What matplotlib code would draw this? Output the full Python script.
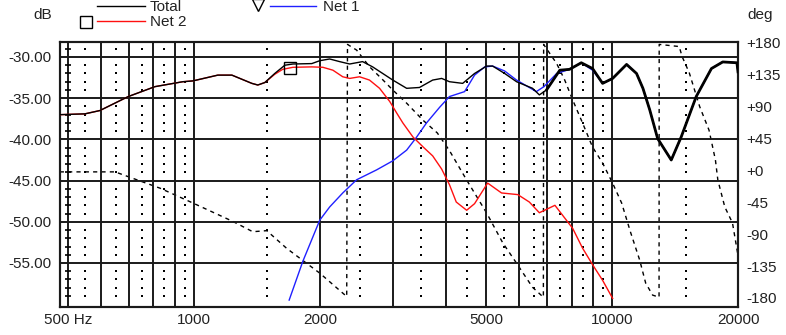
import numpy as np
import matplotlib
matplotlib.use('Agg')
import matplotlib.pyplot as plt
from matplotlib.lines import Line2D

plt.rcParams['font.family'] = ['Liberation Sans', 'DejaVu Sans']

# ---- data ----
total_freq = [478, 549, 596, 697, 807, 941, 995, 1141, 1233, 1376, 1422, 1478, 1561, 1650,
              1725, 1914, 2000, 2112, 2231, 2358, 2532, 2676, 2990, 3227, 3463, 3724, 3913,
              4085, 4393, 4690, 5012, 5180, 5535, 5910, 6454, 6700, 6970, 7500, 7910, 8440,
              8980, 9490, 10030, 10830, 11440, 11850, 12300, 12850, 13850, 14630, 15890,
              17280, 18390, 19880, 20000]
total_db = [-37.0, -36.9, -36.5, -34.8, -33.6, -33.0, -32.9, -32.2, -32.2, -33.2, -33.4, -33.1,
            -32.0, -31.0, -30.85, -30.8, -30.45, -30.24, -30.56, -30.85, -30.56, -31.2, -32.8,
            -33.8, -33.7, -32.8, -32.6, -33.0, -33.2, -32.0, -31.1, -31.1, -32.0, -33.0, -33.8,
            -34.6, -34.0, -31.6, -31.5, -30.7, -31.4, -33.2, -32.6, -30.9, -32.0, -33.8, -36.4,
            -39.9, -42.5, -39.7, -34.8, -31.4, -30.6, -30.7, -31.8]

net2_freq = [478, 549, 596, 697, 807, 941, 995, 1141, 1233, 1376, 1422, 1478, 1561, 1630,
             1725, 1914, 2035, 2150, 2270, 2358, 2490, 2630, 2780, 2940, 3055, 3160, 3340,
             3530, 3724, 3913, 4085, 4240, 4490, 4690, 5040, 5440, 5950, 6340, 6700, 7300,
             8050, 8500, 8980, 9490, 10030]
net2_db = [-37.0, -36.9, -36.5, -34.8, -33.6, -33.0, -32.9, -32.2, -32.2, -33.2, -33.4, -33.1,
           -32.1, -31.5, -31.25, -31.2, -31.25, -31.6, -32.4, -32.6, -32.4, -32.8, -33.8, -35.4,
           -36.8, -38.0, -39.7, -40.9, -42.0, -43.6, -45.5, -47.6, -48.6, -47.8, -45.3, -46.5,
           -46.7, -47.6, -48.9, -48.0, -50.8, -53.2, -55.2, -57.1, -59.3]

net1_freq = [1690, 1822, 2000, 2112, 2270, 2450, 2735, 2990, 3227, 3400, 3600, 3870, 4085,
             4440, 4690, 4960, 5180, 5535, 5910, 6590, 6870, 7370, 7910, 8440, 8980, 9490,
             10030, 10830, 11440, 11850, 12300, 12850, 13850, 14630, 15890, 17280, 18390,
             19880, 20000]
net1_db = [-59.5, -54.8, -49.8, -48.2, -46.5, -44.9, -43.7, -42.6, -41.3, -39.8, -38.0, -36.1,
           -34.8, -34.2, -32.2, -31.2, -31.1, -31.7, -32.8, -34.2, -33.6, -32.0, -31.5, -30.7,
           -31.6, -33.2, -32.6, -30.9, -32.0, -33.8, -36.4, -39.9, -42.5, -39.7, -34.8, -31.4,
           -30.6, -30.7, -31.8]

phase_freq = [478, 648, 704, 830, 995, 1240, 1383, 1494, 1667, 2000, 2320, 2330, 2450, 2630,
              2830, 2990, 3227, 3530, 3820, 4085, 4490, 5012, 5475, 5910, 6454, 6850, 6860,
              7370, 7700, 8050, 8500, 8980, 9490, 10030, 10540, 11080, 11640, 12030, 12500,
              12950, 12960, 14470, 14700, 15300, 16200, 17050, 17660, 17900, 18600, 19400, 20000]
phase_deg = [-2, -2, -9.7, -25, -46, -72, -86.5, -85, -110, -145, -178, 178, 170, 146.5,
             128, 113.6, 95, 71, 53, 28, -13.5, -60, -102, -131, -165, -179, 178,
             151, 128, 99.5, 67, 33, 10.5, -18, -46, -88, -126.5, -159, -176,
             -179, 178, 175, 161, 137.6, 90, 57, 15, -13.5, -51.6, -74, -120]

cursor_freq = 1700  # square marker on Net 2

major_freq = [500, 600, 700, 800, 900, 1000, 2000, 3000, 4000, 5000, 6000, 7000, 8000, 9000, 10000]
minor_freq = [550, 650, 750, 850, 950, 1500, 2500, 3500, 4500, 5500, 6500, 7500, 8500, 9500, 15000]
x_ticks = [500, 1000, 2000, 5000, 10000, 20000]
x_labels = ['500 Hz', '1000', '2000', '5000', '10000', '20000']
db_ticks = [-30, -35, -40, -45, -50, -55]
deg_ticks = [180, 135, 90, 45, 0, -45, -90, -135, -180]

# ---- figure ----
fig = plt.figure(figsize=(7.86, 3.35), dpi=100)
ax = fig.add_axes([60/786, 28/335, 678/786, 265/335])
ax.set_xscale('log')
ax.set_xlim(478.6, 20000)
ax.set_ylim(-60.34, -28.18)

gcol = '#1a1a1a'
for f in major_freq:
    ax.axvline(f, color=gcol, lw=1.4, zorder=1)
for d in db_ticks:
    ax.axhline(d, color=gcol, lw=1.4, zorder=1)

# dotted minor grid: a dot at every dB step
dots_db = [d for d in range(-60, -28) if d % 5 != 0]
for f in minor_freq:
    ax.plot([f] * len(dots_db), dots_db, ls='none', marker='s', ms=1.9, mew=0, color='k', zorder=1)
ax.plot([500] * len(dots_db), dots_db, ls='none', marker='_', ms=5, mew=1.2, color='k', zorder=1)

ax2 = ax.twinx()
ax2.set_ylim(-192.8, 181.4)
ax2.plot(phase_freq, phase_deg, color='k', lw=1, ls=(0, (3, 3)), zorder=2)

ax.set_zorder(ax2.get_zorder() + 1)
ax.patch.set_visible(False)

ax.plot(net1_freq, net1_db, color='#2020ff', lw=1, zorder=3)
ax.plot(net2_freq, net2_db, color='#ff1010', lw=1, zorder=4)
ax.plot(total_freq, total_db, color='k', lw=1, zorder=5)
tf = np.array(total_freq)
td = np.array(total_db)
ax.plot(tf[tf >= 6970], td[tf >= 6970], color='k', lw=2, zorder=5)
ax.plot([cursor_freq], [np.interp(cursor_freq, net2_freq, net2_db)], marker='s', ms=9,
        mfc='none', mec='k', mew=1, zorder=6)

ax.set_xticks(x_ticks)
ax.set_xticklabels(x_labels)
ax.xaxis.set_minor_locator(matplotlib.ticker.NullLocator())
ax.set_yticks(db_ticks)
ax.set_yticklabels(['%.2f' % d for d in db_ticks])
ax2.set_yticks(deg_ticks)
ax2.set_yticklabels([('+%d' % d) if d >= 0 else ('%d' % d) for d in deg_ticks])

tcol = '#222222'
fs = 11
ax.tick_params(axis='both', length=0, labelsize=fs, colors=tcol)
ax.tick_params(axis='x', pad=4)
ax.tick_params(axis='y', pad=6)
ax2.tick_params(axis='y', length=0, labelsize=fs, colors=tcol, pad=6)
for a in (ax, ax2):
    for s in a.spines.values():
        s.set_color(gcol)
        s.set_linewidth(1.5)

# ---- legend / axis titles above the plot ----
def px(x, y):
    return x / 786, 1 - y / 335

fig.text(*px(43, 15), 'dB', fontsize=fs, color=tcol, ha='center', va='center')
fig.text(*px(760, 15), 'deg', fontsize=fs, color=tcol, ha='center', va='center')

fig.add_artist(Line2D([97/786, 145/786], [1 - 6/335] * 2, color='k', lw=1))
fig.text(*px(150, 7), 'Total', fontsize=fs, color=tcol, va='center')
fig.add_artist(Line2D([97/786, 145/786], [1 - 21/335] * 2, color='#ff1010', lw=1))
fig.add_artist(Line2D([86/786], [1 - 22/335], marker='s', ms=8, mfc='none', mec='k', mew=1))
fig.text(*px(150, 22), 'Net 2', fontsize=fs, color=tcol, va='center')
fig.add_artist(Line2D([270/786, 316/786], [1 - 6/335] * 2, color='#2020ff', lw=1))
fig.add_artist(Line2D([258/786], [1 - 5/335], marker='v', ms=8, mfc='none', mec='k', mew=1))
fig.text(*px(323, 7), 'Net 1', fontsize=fs, color=tcol, va='center')

fig.savefig('out.png', dpi=100)
